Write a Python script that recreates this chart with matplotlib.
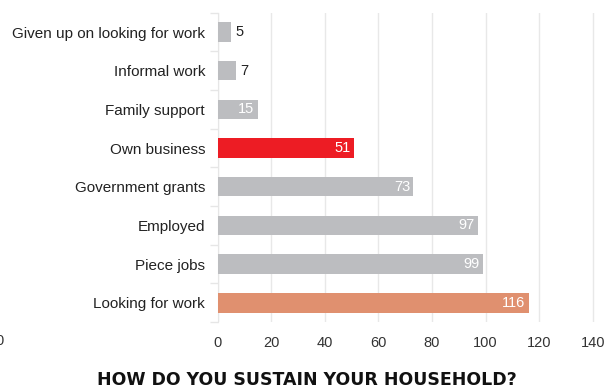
import matplotlib
matplotlib.use("Agg")
import matplotlib.pyplot as plt
import numpy as np

# survey answers, top to bottom
categories = [
    "Given up on looking for work",
    "Informal work",
    "Family support",
    "Own business",
    "Government grants",
    "Employed",
    "Piece jobs",
    "Looking for work",
]
counts = [5, 7, 15, 51, 73, 97, 99, 116]
bar_colors = ["#bcbdc0", "#bcbdc0", "#bcbdc0", "#ed1c24",
              "#bcbdc0", "#bcbdc0", "#bcbdc0", "#e0906f"]
x_ticks = [0, 20, 40, 60, 80, 100, 120, 140]

plt.rcParams["font.family"] = ["Liberation Sans", "DejaVu Sans"]

fig = plt.figure(figsize=(6.14, 3.91), dpi=100)
ax = fig.add_axes([0.3544, 0.176, 0.633, 0.7915])

y = np.arange(len(categories))
ax.barh(y, counts, height=0.5, color=bar_colors, zorder=3)

# value labels: inside the bar if it is long enough, otherwise just after it
for yi, v in zip(y, counts):
    if v >= 10:
        ax.text(v - 1.2, yi, str(v), ha="right", va="center",
                color="white", fontsize=10.5, zorder=4)
    else:
        ax.text(v + 1.5, yi, str(v), ha="left", va="center",
                color="#222222", fontsize=10.5, zorder=4)

ax.set_xlim(0, 145)
ax.set_ylim(len(categories) - 0.5, -0.5)
ax.set_xticks(x_ticks)
ax.set_yticks(y)
ax.set_yticklabels(categories, fontsize=11, color="#222222")
ax.set_yticks(np.arange(len(categories) + 1) - 0.5, minor=True)
ax.tick_params(axis="y", which="major", length=0, pad=9)
ax.tick_params(axis="y", which="minor", length=6, color="#e6e6e6", width=1)
ax.tick_params(axis="x", length=0, pad=10, labelsize=10.5, labelcolor="#333333")

ax.grid(axis="x", color="#e8e8e8", linewidth=1, zorder=0)
for side in ["top", "right", "bottom"]:
    ax.spines[side].set_visible(False)
ax.spines["left"].set_color("#e6e6e6")

# stray axis label on the far left edge
fig.text(0.0, 0.128, "0", ha="center", va="center", fontsize=10.5, color="#333333")

fig.text(0.5, 0.028, "HOW DO YOU SUSTAIN YOUR HOUSEHOLD?", ha="center",
         va="center", fontsize=12.5, fontweight="heavy", color="#111111",
         family="DejaVu Sans")

fig.savefig("out.png", dpi=100)
